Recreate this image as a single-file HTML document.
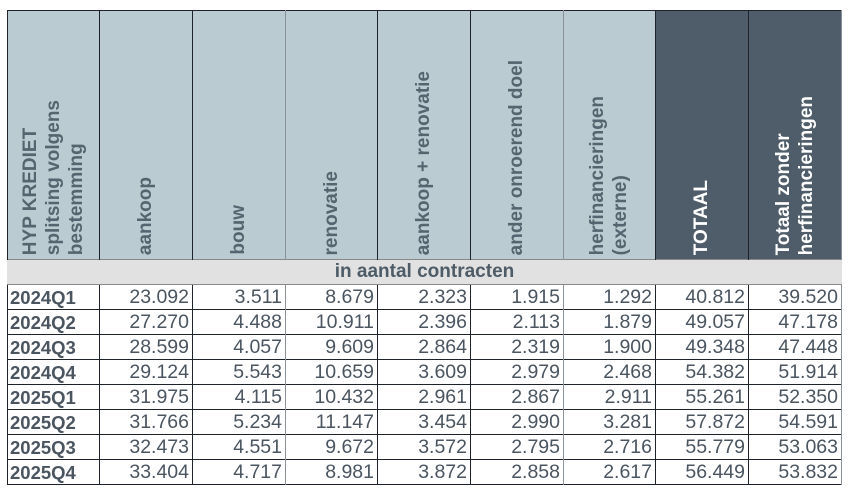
<!DOCTYPE html>
<html><head><meta charset="utf-8"><style>
body{margin:0;width:850px;height:495px;background:#fff;position:relative;overflow:hidden;font-family:"Liberation Sans",Arial,sans-serif;}
.h{position:absolute;top:10px;height:249px;background:#bacbd1;display:flex;justify-content:center;align-items:flex-end;box-sizing:border-box;padding-bottom:4px;}
.h.d{background:#4e5d69;}
.h span{writing-mode:vertical-rl;transform:rotate(180deg);font-size:19px;font-weight:bold;color:#55656f;line-height:23px;white-space:nowrap;}
.h.d span{color:#fff;}
.v{position:absolute;width:1px;background:#1d2328;}
.sub{position:absolute;left:7px;top:259px;width:835px;height:26px;background:#e1e1e1;border-top:1px solid #888;border-bottom:1px solid #888;box-sizing:border-box;text-align:center;font-size:19px;font-weight:bold;color:#4e5c68;line-height:24px;}
.r{position:absolute;left:7px;width:834px;height:25px;border-bottom:1px solid #1d2328;box-sizing:border-box;}
.c{position:absolute;top:0;height:24px;line-height:25px;font-size:19.5px;color:#4a5560;text-align:right;box-sizing:border-box;padding-right:3px;}
.c.l{text-align:left;font-weight:bold;padding-left:3px;font-size:18.5px;}
</style></head><body>
<div class="h" style="left:7px;width:92px"><span>HYP KREDIET<br>splitsing volgens<br>bestemming</span></div>
<div class="h" style="left:99px;width:93px"><span>aankoop</span></div>
<div class="h" style="left:192px;width:93px"><span>bouw</span></div>
<div class="h" style="left:285px;width:92px"><span>renovatie</span></div>
<div class="h" style="left:377px;width:93px"><span>aankoop + renovatie</span></div>
<div class="h" style="left:470px;width:93px"><span>ander onroerend doel</span></div>
<div class="h" style="left:563px;width:92px"><span>herfinancieringen<br>(externe)</span></div>
<div class="h d" style="left:655px;width:93px"><span>TOTAAL</span></div>
<div class="h d" style="left:748px;width:93px"><span>Totaal zonder<br>herfinancieringen</span></div>
<div class="sub">in aantal contracten</div>
<div style="position:absolute;left:7px;top:10px;width:834px;height:1px;background:#1d2328"></div>
<div style="position:absolute;top:285px;left:0">
<div class="r" style="top:0"><div class="c l" style="left:0;width:92px">2024Q1</div><div class="c" style="left:92px;width:93px">23.092</div><div class="c" style="left:185px;width:93px">3.511</div><div class="c" style="left:278px;width:92px">8.679</div><div class="c" style="left:370px;width:93px">2.323</div><div class="c" style="left:463px;width:93px">1.915</div><div class="c" style="left:556px;width:92px">1.292</div><div class="c" style="left:648px;width:93px">40.812</div><div class="c" style="left:741px;width:93px">39.520</div></div>
<div class="r" style="top:25px"><div class="c l" style="left:0;width:92px">2024Q2</div><div class="c" style="left:92px;width:93px">27.270</div><div class="c" style="left:185px;width:93px">4.488</div><div class="c" style="left:278px;width:92px">10.911</div><div class="c" style="left:370px;width:93px">2.396</div><div class="c" style="left:463px;width:93px">2.113</div><div class="c" style="left:556px;width:92px">1.879</div><div class="c" style="left:648px;width:93px">49.057</div><div class="c" style="left:741px;width:93px">47.178</div></div>
<div class="r" style="top:50px"><div class="c l" style="left:0;width:92px">2024Q3</div><div class="c" style="left:92px;width:93px">28.599</div><div class="c" style="left:185px;width:93px">4.057</div><div class="c" style="left:278px;width:92px">9.609</div><div class="c" style="left:370px;width:93px">2.864</div><div class="c" style="left:463px;width:93px">2.319</div><div class="c" style="left:556px;width:92px">1.900</div><div class="c" style="left:648px;width:93px">49.348</div><div class="c" style="left:741px;width:93px">47.448</div></div>
<div class="r" style="top:75px"><div class="c l" style="left:0;width:92px">2024Q4</div><div class="c" style="left:92px;width:93px">29.124</div><div class="c" style="left:185px;width:93px">5.543</div><div class="c" style="left:278px;width:92px">10.659</div><div class="c" style="left:370px;width:93px">3.609</div><div class="c" style="left:463px;width:93px">2.979</div><div class="c" style="left:556px;width:92px">2.468</div><div class="c" style="left:648px;width:93px">54.382</div><div class="c" style="left:741px;width:93px">51.914</div></div>
<div class="r" style="top:100px"><div class="c l" style="left:0;width:92px">2025Q1</div><div class="c" style="left:92px;width:93px">31.975</div><div class="c" style="left:185px;width:93px">4.115</div><div class="c" style="left:278px;width:92px">10.432</div><div class="c" style="left:370px;width:93px">2.961</div><div class="c" style="left:463px;width:93px">2.867</div><div class="c" style="left:556px;width:92px">2.911</div><div class="c" style="left:648px;width:93px">55.261</div><div class="c" style="left:741px;width:93px">52.350</div></div>
<div class="r" style="top:125px"><div class="c l" style="left:0;width:92px">2025Q2</div><div class="c" style="left:92px;width:93px">31.766</div><div class="c" style="left:185px;width:93px">5.234</div><div class="c" style="left:278px;width:92px">11.147</div><div class="c" style="left:370px;width:93px">3.454</div><div class="c" style="left:463px;width:93px">2.990</div><div class="c" style="left:556px;width:92px">3.281</div><div class="c" style="left:648px;width:93px">57.872</div><div class="c" style="left:741px;width:93px">54.591</div></div>
<div class="r" style="top:150px"><div class="c l" style="left:0;width:92px">2025Q3</div><div class="c" style="left:92px;width:93px">32.473</div><div class="c" style="left:185px;width:93px">4.551</div><div class="c" style="left:278px;width:92px">9.672</div><div class="c" style="left:370px;width:93px">3.572</div><div class="c" style="left:463px;width:93px">2.795</div><div class="c" style="left:556px;width:92px">2.716</div><div class="c" style="left:648px;width:93px">55.779</div><div class="c" style="left:741px;width:93px">53.063</div></div>
<div class="r" style="top:175px"><div class="c l" style="left:0;width:92px">2025Q4</div><div class="c" style="left:92px;width:93px">33.404</div><div class="c" style="left:185px;width:93px">4.717</div><div class="c" style="left:278px;width:92px">8.981</div><div class="c" style="left:370px;width:93px">3.872</div><div class="c" style="left:463px;width:93px">2.858</div><div class="c" style="left:556px;width:92px">2.617</div><div class="c" style="left:648px;width:93px">56.449</div><div class="c" style="left:741px;width:93px">53.832</div></div>
</div>
<div style="position:absolute;left:0;top:10px">
<div class="v" style="left:7px;top:0;height:250px"></div>
<div class="v" style="left:99px;top:0;height:250px"></div>
<div class="v" style="left:192px;top:0;height:250px"></div>
<div class="v" style="left:285px;top:0;height:250px;background:#8a9298"></div>
<div class="v" style="left:377px;top:0;height:250px"></div>
<div class="v" style="left:470px;top:0;height:250px"></div>
<div class="v" style="left:563px;top:0;height:250px;background:#8a9298"></div>
<div class="v" style="left:655px;top:0;height:250px"></div>
<div class="v" style="left:748px;top:0;height:250px"></div>
<div class="v" style="left:841px;top:0;height:250px;background:#8a9298"></div>
</div>
<div style="position:absolute;left:0;top:285px">
<div class="v" style="left:7px;top:0;height:200px"></div>
<div class="v" style="left:99px;top:0;height:200px"></div>
<div class="v" style="left:192px;top:0;height:200px"></div>
<div class="v" style="left:285px;top:0;height:200px;background:#8a9298"></div>
<div class="v" style="left:377px;top:0;height:200px"></div>
<div class="v" style="left:470px;top:0;height:200px"></div>
<div class="v" style="left:563px;top:0;height:200px;background:#8a9298"></div>
<div class="v" style="left:655px;top:0;height:200px"></div>
<div class="v" style="left:748px;top:0;height:200px"></div>
<div class="v" style="left:841px;top:0;height:200px;background:#8a9298"></div>
</div>
</body></html>
